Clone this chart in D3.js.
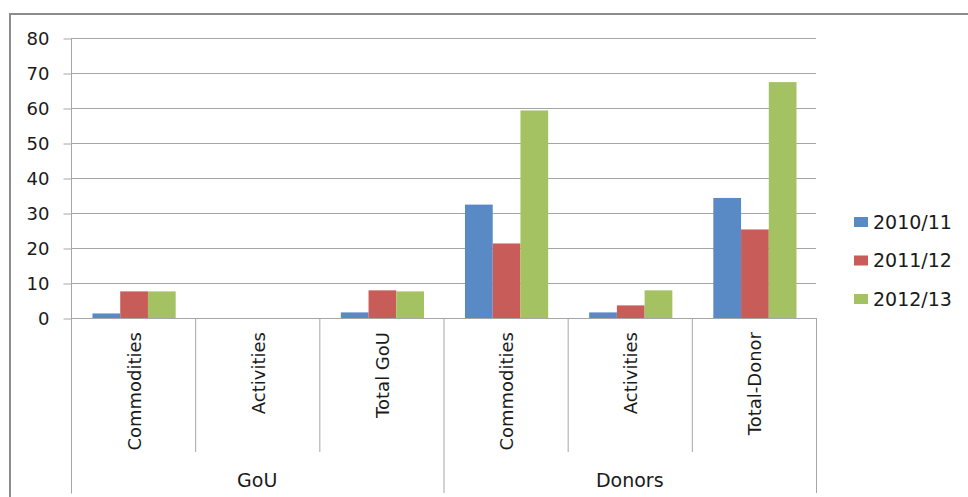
<!DOCTYPE html>
<html>
<head>
<meta charset="utf-8">
<script src="https://cdn.jsdelivr.net/npm/d3@7"></script>
<style>
  body { margin: 0; background: #fff; }
  svg { display: block; font-family: 'DejaVu Sans', sans-serif; }
</style>
</head>
<body>
<svg id="chart" width="968" height="497"></svg>
<script>
// categories and groups along the x axis
const categories = ['Commodities', 'Activities', 'Total GoU', 'Commodities', 'Activities', 'Total-Donor']
const groups = ['GoU', 'Donors']
const groupSizes = [3, 3]

// series
const seriesNames = ['2010/11', '2011/12', '2012/13']
const values2010 = [1.3, 0, 1.6, 32.4, 1.6, 34.3]
const values2011 = [7.6, 0, 7.9, 21.3, 3.6, 25.3]
const values2012 = [7.6, 0, 7.6, 59.3, 7.9, 67.4]
const yTicks = [0, 10, 20, 30, 40, 50, 60, 70, 80]

const colors = ['#5a8ac6', '#c75c58', '#a5c263']
const seriesValues = [values2010, values2011, values2012]

const svg = d3.select('#chart')

// outer frame
svg.append('rect')
  .attr('x', 10)
  .attr('y', 14)
  .attr('width', 1000)
  .attr('height', 600)
  .attr('fill', 'none')
  .attr('stroke', '#8c8c8c')
  .attr('stroke-width', 2)

const plotLeft = 71
const plotRight = 816
const plotTop = 38
const plotBottom = 318

const x = d3.scaleBand()
  .domain(d3.range(categories.length))
  .range([plotLeft, plotRight])
  .paddingInner(0)
  .paddingOuter(0)

const barGroupWidth = x.bandwidth() * 0.67
const xSub = d3.scaleBand()
  .domain(seriesNames)
  .range([(x.bandwidth() - barGroupWidth) / 2 + 1, (x.bandwidth() + barGroupWidth) / 2 + 1])

const y = d3.scaleLinear().domain([0, 80]).range([plotBottom, plotTop])

// gridlines
svg.append('g')
  .selectAll('line')
  .data(yTicks)
  .join('line')
  .attr('x1', plotLeft)
  .attr('x2', plotRight)
  .attr('y1', d => y(d) + 0.5)
  .attr('y2', d => y(d) + 0.5)
  .attr('stroke', '#a6a6a6')
  .attr('stroke-width', 1)

// y axis
const yAxis = svg.append('g')
  .attr('transform', 'translate(' + (plotLeft + 0.5) + ',0.5)')
  .call(d3.axisLeft(y).tickValues(yTicks).tickSize(8).tickPadding(14))
yAxis.select('.domain').attr('stroke', '#a6a6a6').attr('d', 'M0,' + (plotTop - 0.5) + 'V493')
yAxis.selectAll('.tick line').attr('stroke', '#a6a6a6')
yAxis.selectAll('.tick text')
  .attr('fill', '#1a1a1a')
  .style('font-size', '18px')
  .style('font-family', "'DejaVu Sans', sans-serif")

// bars
const series = seriesNames.map((name, i) => ({ name: name, color: colors[i], values: seriesValues[i] }))

svg.append('g')
  .selectAll('g')
  .data(series)
  .join('g')
  .attr('fill', d => d.color)
  .selectAll('rect')
  .data(d => d.values.map((v, i) => ({ name: d.name, index: i, value: v })))
  .join('rect')
  .attr('x', d => x(d.index) + xSub(d.name))
  .attr('width', xSub.bandwidth())
  .attr('y', d => y(d.value))
  .attr('height', d => y(0) - y(d.value))

// category separators (short) and group separators (long)
const boundaries = []
let start = 0
groupSizes.forEach((size, g) => {
  for (let i = 1; i < size; i++) boundaries.push({ index: start + i, long: false })
  start += size
  boundaries.push({ index: start, long: true })
})

const edge = i => i < categories.length ? x(i) : plotRight

svg.append('g')
  .selectAll('line')
  .data(boundaries)
  .join('line')
  .attr('x1', d => edge(d.index) + 0.5)
  .attr('x2', d => edge(d.index) + 0.5)
  .attr('y1', plotBottom)
  .attr('y2', d => d.long ? 493 : 452)
  .attr('stroke', '#a6a6a6')

// category labels, rotated
svg.append('g')
  .selectAll('text')
  .data(categories)
  .join('text')
  .attr('transform', (d, i) => 'translate(' + (x(i) + x.bandwidth() / 2 + 1) + ',332) rotate(-90)')
  .attr('text-anchor', 'end')
  .attr('dy', '0.36em')
  .attr('fill', '#1a1a1a')
  .style('font-size', '18px')
  .text(d => d)

// group labels
let offset = 0
const groupCenters = groupSizes.map(size => {
  const c = (edge(offset) + edge(offset + size)) / 2
  offset += size
  return c
})

svg.append('g')
  .selectAll('text')
  .data(groups)
  .join('text')
  .attr('x', (d, i) => groupCenters[i])
  .attr('y', 487)
  .attr('text-anchor', 'middle')
  .attr('fill', '#1a1a1a')
  .style('font-size', '19px')
  .text(d => d)

// legend
const legend = svg.append('g')
  .selectAll('g')
  .data(series)
  .join('g')
  .attr('transform', (d, i) => 'translate(854,' + (222 + i * 38.5) + ')')

legend.append('rect')
  .attr('x', 0)
  .attr('y', -5)
  .attr('width', 14)
  .attr('height', 10)
  .attr('fill', d => d.color)

legend.append('text')
  .attr('x', 19)
  .attr('dy', '0.36em')
  .attr('fill', '#1a1a1a')
  .style('font-size', '19px')
  .text(d => d.name)
</script>
</body>
</html>
